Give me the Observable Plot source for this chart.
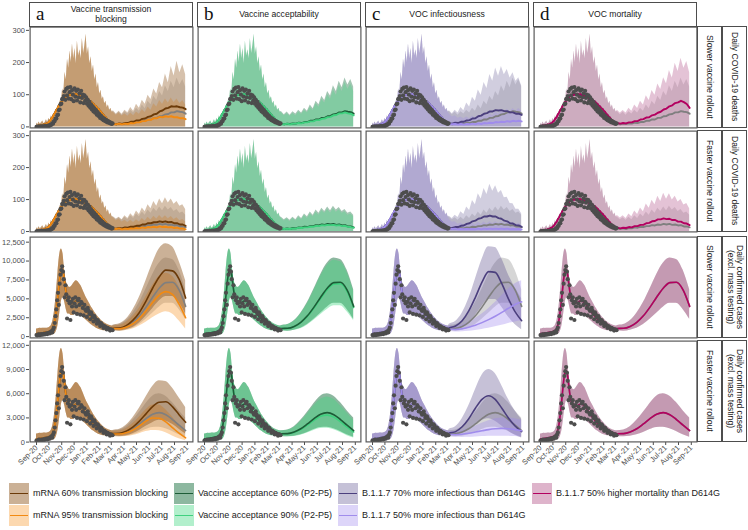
<!DOCTYPE html>
<html><head><meta charset="utf-8">
<script src="https://cdn.jsdelivr.net/npm/d3@7"></script>
<script src="https://cdn.jsdelivr.net/npm/@observablehq/plot@0.6"></script>
<style>
body{margin:0;background:#fff;}
#root{position:relative;width:748px;height:530px;overflow:hidden;font-family:"Liberation Sans",Arial,Helvetica,sans-serif;background:#fff;}
.strip{position:absolute;box-sizing:border-box;border:1.2px solid #4d4d4d;background:#fff;color:#1a1a1a;display:flex;align-items:center;justify-content:center;text-align:center;font-size:8.6px;line-height:1.15;white-space:pre;}
.vstrip{writing-mode:vertical-rl;}
.letter{position:absolute;left:6px;top:0px;font-family:"Liberation Serif","DejaVu Serif",serif;font-size:19px;line-height:22px;color:#111;}
.panel{position:absolute;}
.panel svg{display:block;}
.lg{position:absolute;font-size:9px;color:#1a1a1a;white-space:nowrap;line-height:21px;}
.key{position:absolute;width:20px;height:21px;}
</style></head><body><div id="root"></div>
<script>
// ---------- labels ----------
const tickLabels = ["Sep-20","Oct-20","Nov-20","Dec-20","Jan-21","Feb-21","Mar-21","Apr-21","May-21","Jun-21","Jul-21","Aug-21","Sep-21"];
const columnLetters = ["a","b","c","d"];
const columnTitles = ["Vaccine transmission\nblocking","Vaccine acceptability","VOC infectiousness","VOC mortality"];
const rolloutLabels = ["Slower vaccine rollout","Faster vaccine rollout","Slower vaccine rollout","Faster vaccine rollout"];
const metricLabels = ["Daily COVID-19 deaths","Daily COVID-19 deaths","Daily confirmed cases\n(excl. mass testing)","Daily confirmed cases\n(excl. mass testing)"];
const yTicksDeaths = [0,100,200,300];
const yTicksCasesSlow = [0,2500,5000,7500,10000,12500];
const yTicksCasesFast = [0,3000,6000,9000,12000];
const legendRow1 = [["a60","mRNA 60% transmission blocking"],["b60","Vaccine acceptance 60% (P2-P5)"],["c70","B.1.1.7 70% more infectious than D614G"],["d50","B.1.1.7 50% higher mortality than D614G"]];
const legendRow2 = [["a95","mRNA 95% transmission blocking"],["b90","Vaccine acceptance 90% (P2-P5)"],["c50","B.1.1.7 50% more infectious than D614G"]];

// ---------- observed data (every 2 days from 1 Sep 2020) ----------
const deathsObs = [0,1,0,1,1,0,2,1,1,2,2,3,2,3,4,3,5,6,
 7,11,10,17,18,26,26,36,38,52,54,70,72,86,88,
 96,110,84,118,98,122,88,108,124,86,114,100,80,120,94,112,82,116,92,104,76,112,90,100,74,98,82,92,
 72,84,66,78,60,70,54,64,48,58,44,52,38,46,34,40,28,35,25,30,21,26,18,22,15,19,13,16,11,13,9,11];
const casesObs = [200,150,250,300,180,260,320,250,300,380,280,350,420,330,450,
 500,420,600,700,550,900,1200,1800,
 2700,3600,4800,5800,4200,7000,8200,8800,9300,8600,7600,
 5200,6800,5600,2400,4800,5200,4400,2200,4600,4000,5000,3200,4400,5200,4000,3000,4800,5000,4200,2900,4600,4400,3800,2800,4200,3600,3400,
 2600,3800,3400,3000,2300,3200,2900,2600,2000,2700,2400,2200,1700,2200,2000,1800,1400,1800,1600,1500,1150,1400,1300,1200,950,1150,1050,1000,800,950,900,850];

// ---------- fitted period (shared by all scenarios) ----------
// deaths: every 3 days from 1 Sep 2020
const fitDeathMed = [3,2,5,3,6,5,8,7,11,11,16,19,26,30,39,44,53,58,67,71,79,82,89,91,96,96,100,99,102,100,103,101,102,99,100,96,97,93,93,89,89,85,85,80,79,74,72,66,64,58,56,50,47,41,38,32,29,23,21,16,15,11];
const fitDeathHi = [12,7,15,9,13,18,10,14,22,13,27,17,35,24,30,44,33,60,46,82,68,118,104,170,146,210,182,236,200,258,212,244,196,266,220,240,212,275,228,252,288,226,248,196,218,172,192,146,164,122,138,102,114,86,94,72,80,60,68,52,58,46];
// cases: every 4 days from 1 Sep 2020
const fitCaseMed = [400,420,450,480,520,560,600,650,720,850,1200,2000,3500,5500,7600,8800,8700,7200,5600,4800,4500,4400,4500,4600,4700,4700,4600,4400,4100,3800,3500,3200,2900,2650,2400,2200,2000,1800,1650,1500,1400,1300,1220,1150,1100,1080,1070];
const fitCaseLo = [100,100,100,100,100,100,100,120,150,200,250,350,700,1500,3000,4600,5200,4600,3600,3000,3000,2800,2800,2900,3000,3000,2900,2800,2600,2400,2200,2000,1800,1600,1450,1300,1150,1050,950,870,820,790,770,760,750,750,750];
const fitCaseHi = [1000,1050,1100,1080,1100,1120,1100,1150,1250,1500,2200,3600,5800,8500,10800,11600,11000,8800,7300,6800,6500,6600,6900,7200,7400,7300,7000,6700,6200,5700,5200,4800,4400,4000,3650,3300,3000,2700,2450,2200,2000,1850,1700,1600,1500,1450,1400];

// ---------- projected deaths (weekly from 6 Mar 2021), S = slower, F = faster ----------
const dS_base_med = [10,8,10,9,11,10,13,12,15,15,19,19,23,23,28,28,33,34,39,40,45,45,49,47,46,41];
const dS_base_hi  = [48,38,46,36,47,40,52,43,58,49,68,56,80,69,95,82,110,96,128,110,142,122,152,130,147,124];
const dS_a60_med  = [10,8,11,9,12,12,16,16,20,20,25,26,31,33,39,41,48,51,57,59,64,63,64,61,60,55];
const dS_a60_hi   = [50,40,49,39,52,44,60,49,70,58,83,70,98,85,118,102,138,122,164,137,188,158,204,168,193,162];
const dS_a95_med  = [10,8,10,8,10,9,12,11,14,14,18,18,22,22,27,27,31,30,33,31,33,30,30,27,27,24];
const dS_a95_hi   = [45,36,43,34,41,33,43,35,46,39,54,45,62,52,72,62,82,70,87,74,90,76,87,73,82,68];
const dS_b90_med  = [10,8,10,8,10,10,12,11,14,14,17,17,21,21,25,26,30,31,36,37,42,42,45,42,41,36];
const dS_b90_hi   = [44,35,41,33,42,35,46,39,51,44,60,51,72,61,85,74,99,86,115,98,129,110,138,117,133,110];
const dS_c70_med  = [11,10,13,12,16,16,20,21,26,27,33,35,41,43,48,48,52,51,52,49,49,45,45,41,41,37];
const dS_c70_hi   = [50,41,52,43,60,50,74,62,92,80,115,98,138,119,163,142,183,157,188,162,178,152,168,142,153,128];
const dS_c50_med  = [10,8,9,7,9,7,9,8,10,8,11,9,12,11,13,12,15,14,16,15,18,16,19,17,19,17];
const dS_c50_hi   = [40,31,35,27,31,25,31,25,33,27,35,29,39,32,43,35,47,39,51,43,55,46,57,49,57,49];
const dS_d50_med  = [12,10,12,11,14,14,18,18,23,24,29,30,36,38,44,47,54,57,64,67,74,76,81,77,71,59];
const dS_d50_hi   = [52,43,51,43,58,49,68,57,80,68,97,82,113,98,133,116,153,134,175,152,198,172,213,182,203,168];

const dF_base_med = [10,8,10,8,11,10,13,12,15,14,17,17,20,19,22,21,24,22,24,21,22,19,20,16,16,13];
const dF_base_hi  = [45,37,43,35,45,37,49,41,55,46,61,51,67,57,73,63,77,65,79,67,75,63,69,57,61,51];
const dF_a60_med  = [10,9,11,10,13,12,15,15,18,18,22,22,26,26,29,29,32,30,32,29,30,26,26,22,22,18];
const dF_a60_hi   = [46,39,45,37,49,41,56,46,64,53,74,62,84,71,94,79,102,87,106,89,102,85,94,79,84,69];
const dF_a95_med  = [10,8,10,7,9,8,10,9,11,10,13,11,14,13,15,13,16,14,15,13,14,11,12,9,10,7];
const dF_a95_hi   = [42,34,39,30,35,28,35,28,37,30,41,33,45,36,48,39,50,41,49,40,47,38,43,34,38,30];
const dF_b90_med  = [10,8,9,8,10,9,12,11,13,13,15,15,18,17,20,19,21,20,21,19,20,17,18,15,14,12];
const dF_b90_hi   = [41,33,39,31,41,33,44,37,50,41,55,46,60,51,66,57,69,58,71,60,68,57,62,51,55,46];
const dF_c70_med  = [11,11,14,14,18,19,24,26,32,34,40,42,47,47,50,47,47,42,40,34,32,26,25,20,19,15];
const dF_c70_hi   = [48,41,51,44,62,53,77,66,97,84,118,102,135,116,148,126,143,120,128,106,107,88,87,70,70,56];
const dF_c50_med  = [10,8,9,7,8,7,8,7,8,7,9,7,9,8,9,8,9,8,9,8,9,7,8,7,8,6];
const dF_c50_hi   = [38,29,31,23,27,20,26,20,27,21,29,22,30,23,31,24,31,24,31,24,30,23,28,21,26,19];
const dF_d50_med  = [12,10,12,11,14,13,17,17,21,21,26,27,32,33,38,38,41,39,40,36,36,31,31,26,25,20];
const dF_d50_hi   = [50,42,49,41,55,46,64,53,74,62,86,73,98,84,110,94,120,101,118,99,110,92,100,83,88,71];

// ---------- projected cases (every 16 days from 5 Mar 2021) ----------
const cS_base_med = [1080,1100,1350,1900,2750,3900,5200,6400,7150,7200,6200,4000];
const cS_base_lo  = [780,720,850,1100,1600,2300,3100,3900,4400,4400,3600,2300];
const cS_base_hi  = [1450,1600,2100,3100,4500,6300,8200,9700,10400,10200,8800,6200];
const cS_a60_med  = [1100,1150,1450,2150,3200,4700,6400,7900,8800,8700,7600,5100];
const cS_a60_lo   = [800,750,900,1200,1800,2700,3700,4700,5300,5300,4500,3000];
const cS_a60_hi   = [1500,1700,2300,3500,5200,7400,9700,11600,12300,11900,10000,7400];
const cS_a95_med  = [1060,1050,1250,1700,2400,3400,4500,5500,5950,5600,4300,2500];
const cS_a95_lo   = [760,700,800,1000,1400,1900,2500,3000,3300,3000,2100,1000];
const cS_a95_hi   = [1400,1500,1900,2700,3800,5300,6800,8000,8400,8000,6600,4400];
const cS_b90_med  = [1070,1090,1320,1850,2680,3800,5050,6200,6950,7000,6000,3850];
const cS_b90_lo   = [770,710,830,1050,1500,2150,2900,3600,4100,4100,3300,2100];
const cS_b90_hi   = [1420,1560,2050,3000,4350,6100,7950,9400,10100,9900,8500,6000];
const cS_c70_med  = [1150,1400,2100,3400,5200,7200,8600,8500,7000,5000,3300,2100];
const cS_c70_lo   = [850,900,1200,1800,2800,4000,4900,4900,3900,2600,1600,900];
const cS_c70_hi   = [1600,2000,3100,5000,7600,10200,11900,11800,10300,8200,6500,5000];
const cS_c50_med  = [1000,950,1050,1250,1500,1850,2250,2700,3200,3750,4250,4600];
const cS_c50_lo   = [700,620,650,720,820,950,1100,1300,1500,1750,1950,2100];
const cS_c50_hi   = [1350,1350,1550,1900,2400,3000,3700,4500,5400,6300,7000,7400];

const cF_base_med = [1030,1050,1250,1650,2250,2900,3450,3650,3400,2800,2100,1430];
const cF_base_lo  = [730,660,720,900,1200,1550,1800,1850,1650,1300,900,600];
const cF_base_hi  = [1400,1500,1900,2700,3700,4800,5700,6000,5700,4900,3900,3000];
const cF_a60_med  = [1050,1100,1350,1850,2600,3500,4400,4950,5000,4400,3400,2450];
const cF_a60_lo   = [750,700,800,1050,1450,1950,2400,2700,2600,2200,1600,1000];
const cF_a60_hi   = [1450,1600,2100,3000,4200,5600,6900,7600,7500,6700,5500,4300];
const cF_a95_med  = [1010,1000,1150,1500,2000,2600,2980,2950,2500,1800,1100,530];
const cF_a95_lo   = [720,640,680,820,1050,1300,1450,1400,1150,750,400,180];
const cF_a95_hi   = [1350,1400,1700,2300,3100,4000,4600,4600,4000,3100,2100,1300];
const cF_b90_med  = [1020,1030,1200,1550,2100,2700,3200,3350,3100,2500,1850,1250];
const cF_b90_lo   = [720,650,700,860,1130,1450,1680,1720,1520,1180,800,520];
const cF_b90_hi   = [1380,1460,1800,2550,3500,4500,5300,5600,5300,4500,3600,2700];
const cF_c70_med  = [1100,1300,1900,2900,4200,5300,5750,5300,4200,3000,2000,1300];
const cF_c70_lo   = [820,850,1100,1550,2200,2700,2900,2600,2000,1350,850,500];
const cF_c70_hi   = [1550,1900,2900,4500,6500,8300,9000,8500,7000,5300,3900,2800];
const cF_c50_med  = [980,920,980,1100,1250,1400,1550,1650,1700,1650,1550,1400];
const cF_c50_lo   = [700,600,580,600,640,680,720,740,740,720,680,620];
const cF_c50_hi   = [1300,1300,1450,1700,2000,2350,2650,2900,3000,3000,2900,2700];

// ---------- styling ----------
const lineColors = {base:"#7f7f7f", a60:"#6b3a08", a95:"#f28a12", b60:"#1d5c37", b90:"#3fd17f", c70:"#4b3f7d", c50:"#a08cec", d50:"#b3005f"};
const fillColors = {base:"#8a8a8a", a60:"#8c5218", a95:"#f5880f", b60:"#1a7040", b90:"#3fd67f", c70:"#5b4e8c", c50:"#9d87ee", d50:"#a83a78"};
const fillAlpha  = {base:0.35, a60:0.45, a95:0.33, b60:0.5, b90:0.4, c70:0.35, c50:0.35, d50:0.38};
const deathBandFade = 0.8;

// ---------- tables ----------
const deathProj = {
  S:{base:[dS_base_med,dS_base_hi],a60:[dS_a60_med,dS_a60_hi],a95:[dS_a95_med,dS_a95_hi],b60:[dS_base_med,dS_base_hi],b90:[dS_b90_med,dS_b90_hi],c70:[dS_c70_med,dS_c70_hi],c50:[dS_c50_med,dS_c50_hi],d50:[dS_d50_med,dS_d50_hi]},
  F:{base:[dF_base_med,dF_base_hi],a60:[dF_a60_med,dF_a60_hi],a95:[dF_a95_med,dF_a95_hi],b60:[dF_base_med,dF_base_hi],b90:[dF_b90_med,dF_b90_hi],c70:[dF_c70_med,dF_c70_hi],c50:[dF_c50_med,dF_c50_hi],d50:[dF_d50_med,dF_d50_hi]}
};
const caseProj = {
  S:{base:[cS_base_med,cS_base_lo,cS_base_hi],a60:[cS_a60_med,cS_a60_lo,cS_a60_hi],a95:[cS_a95_med,cS_a95_lo,cS_a95_hi],b60:[cS_base_med,cS_base_lo,cS_base_hi],b90:[cS_b90_med,cS_b90_lo,cS_b90_hi],c70:[cS_c70_med,cS_c70_lo,cS_c70_hi],c50:[cS_c50_med,cS_c50_lo,cS_c50_hi],d50:[cS_base_med,cS_base_lo,cS_base_hi]},
  F:{base:[cF_base_med,cF_base_lo,cF_base_hi],a60:[cF_a60_med,cF_a60_lo,cF_a60_hi],a95:[cF_a95_med,cF_a95_lo,cF_a95_hi],b60:[cF_base_med,cF_base_lo,cF_base_hi],b90:[cF_b90_med,cF_b90_lo,cF_b90_hi],c70:[cF_c70_med,cF_c70_lo,cF_c70_hi],c50:[cF_c50_med,cF_c50_lo,cF_c50_hi],d50:[cF_base_med,cF_base_lo,cF_base_hi]}
};
// band drawing order and line drawing order per column
const bandOrder = [["base","a95","a60"],["b60","b90"],["base","c70","c50"],["base","d50"]];
const deathLineOrder = [["base","a60","a95"],["b60","b90"],["base","c70","c50"],["base","d50"]];
const caseLineOrder  = [["base","a60","a95"],["b90","b60"],["base","c70","c50"],["base","d50"]];

const X0 = Date.UTC(2020, 8, 1);
const atDay = d => new Date(X0 + d * 86400000);
const series = (start, step, vals) => vals.map((v, i) => ({date: atDay(start + i * step), v}));
const bandSeries = (start, step, lo, hi) => hi.map((h, i) => ({date: atDay(start + i * step), lo: lo ? lo[i] : 0, hi: h}));
const tickDates = tickLabels.map(s => d3.utcParse("%b-%y")(s));
const xDomain = [atDay(-17), atDay(380)];

const colLeft = [29, 197, 365, 533], panelW = 164, rowTop = [26, 130, 236, 340], panelH = 102;
const yDomains = [[-5, 312], [-3, 316], [-250, 13250], [-50, 12600]];
const yTicks = [yTicksDeaths, yTicksDeaths, yTicksCasesSlow, yTicksCasesFast];

const root = document.getElementById("root");
const deathDots = series(0, 2, deathsObs);
const caseDots = series(0, 2, casesObs);

function makePanel(r, c) {
  const isDeaths = r < 2;
  const sp = r % 2 === 0 ? "S" : "F";
  const mL = c === 0 ? 29 : 0;
  const mB = r === 3 ? 40 : 0;
  const curve = isDeaths ? "linear" : "monotone-x";
  const marks = [];
  for (const s of bandOrder[c]) {
    let band;
    if (isDeaths) band = [...bandSeries(0, 3, null, fitDeathHi), ...bandSeries(186, 7, null, deathProj[sp][s][1])];
    else band = [...bandSeries(0, 4, fitCaseLo, fitCaseHi), ...bandSeries(185, 16, caseProj[sp][s][1], caseProj[sp][s][2])];
    marks.push(Plot.areaY(band, {x: "date", y1: "lo", y2: "hi", fill: fillColors[s], fillOpacity: fillAlpha[s] * (isDeaths ? deathBandFade : 1), curve, clip: true}));
  }
  for (const s of (isDeaths ? deathLineOrder : caseLineOrder)[c]) {
    let line;
    if (isDeaths) line = [...series(0, 3, fitDeathMed), ...series(186, 7, deathProj[sp][s][0])];
    else line = [...series(0, 4, fitCaseMed), ...series(185, 16, caseProj[sp][s][0])];
    marks.push(Plot.line(line, {x: "date", y: "v", stroke: lineColors[s], strokeWidth: isDeaths ? 1.9 : 1.6, curve, clip: true}));
  }
  marks.push(Plot.dot(isDeaths ? deathDots : caseDots, {x: "date", y: "v", r: 2.1, fill: "#4d4d4d", clip: true}));
  marks.push(Plot.frame({stroke: "#5a5a5a", strokeWidth: 1.2, inset: 0.6}));
  const fmtX = d => tickLabels[tickDates.findIndex(t => +t === +d)];
  const svg = Plot.plot({
    width: panelW + mL, height: panelH + mB,
    marginLeft: mL, marginRight: 0, marginTop: 0, marginBottom: mB,
    style: {background: "transparent", fontFamily: "Liberation Sans, Arial, sans-serif", fontSize: "7.5px", color: "#4d4d4d", overflow: "visible"},
    x: {type: "utc", domain: xDomain, axis: r === 3 ? "bottom" : null, ticks: tickDates, tickFormat: fmtX, tickRotate: -45, tickSize: 3, tickPadding: 1, label: null},
    y: {domain: yDomains[r], axis: c === 0 ? "left" : null, ticks: yTicks[r], tickFormat: d3.format(","), tickSize: 3, tickPadding: 1.5, label: null},
    marks
  });
  const div = document.createElement("div");
  div.className = "panel";
  div.style.left = (colLeft[c] - mL) + "px";
  div.style.top = rowTop[r] + "px";
  div.appendChild(svg);
  root.appendChild(div);
}
for (let r = 0; r < 4; r++) for (let c = 0; c < 4; c++) makePanel(r, c);

// top strips
for (let c = 0; c < 4; c++) {
  const s = document.createElement("div");
  s.className = "strip";
  Object.assign(s.style, {left: colLeft[c] + "px", top: "2px", width: panelW + "px", height: "25px"});
  s.textContent = columnTitles[c];
  const L = document.createElement("span");
  L.className = "letter"; L.textContent = columnLetters[c];
  s.appendChild(L);
  root.appendChild(s);
}
// right strips
for (let r = 0; r < 4; r++) {
  const a = document.createElement("div");
  a.className = "strip vstrip";
  Object.assign(a.style, {left: "697px", top: rowTop[r] + "px", width: "25px", height: panelH + "px"});
  a.textContent = rolloutLabels[r];
  root.appendChild(a);
  const b = document.createElement("div");
  b.className = "strip vstrip";
  Object.assign(b.style, {left: "722px", top: rowTop[r] + "px", width: "25px", height: panelH + "px"});
  b.textContent = metricLabels[r];
  root.appendChild(b);
}
// legend
const keyX = [9, 174, 338, 532];
[[legendRow1, 483], [legendRow2, 505]].forEach(([items, top]) => {
  items.forEach(([s, label], i) => {
    const k = document.createElement("div");
    k.className = "key";
    Object.assign(k.style, {left: keyX[i] + "px", top: top + "px", background: fillColors[s]});
    k.innerHTML = `<div style="position:absolute;inset:0;background:#fff;opacity:${1 - fillAlpha[s]}"></div><div style="position:absolute;left:1px;right:1px;top:9.7px;height:1.6px;background:${lineColors[s]}"></div>`;
    root.appendChild(k);
    const t = document.createElement("div");
    t.className = "lg";
    Object.assign(t.style, {left: (keyX[i] + 24) + "px", top: top + "px"});
    t.textContent = label;
    root.appendChild(t);
  });
});
</script></body></html>
